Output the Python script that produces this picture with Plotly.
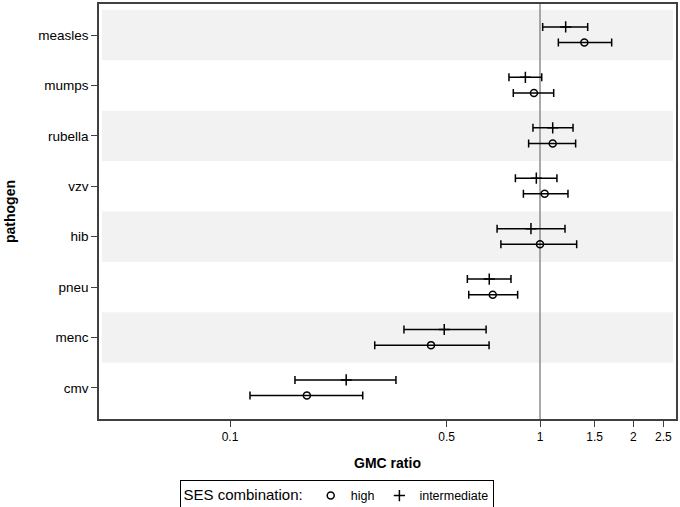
import plotly.graph_objects as go

pathogens = ["measles", "mumps", "rubella", "vzv", "hib", "pneu", "menc", "cmv"]

# SES combination: high
high_est = [1.39, 0.956, 1.099, 1.035, 1.00, 0.704, 0.445, 0.177]
high_lo = [1.146, 0.820, 0.919, 0.884, 0.748, 0.589, 0.293, 0.116]
high_hi = [1.703, 1.107, 1.303, 1.231, 1.313, 0.847, 0.685, 0.268]

# SES combination: intermediate
int_est = [1.21, 0.897, 1.099, 0.973, 0.935, 0.686, 0.491, 0.237]
int_lo = [1.02, 0.794, 0.949, 0.833, 0.727, 0.583, 0.364, 0.162]
int_hi = [1.425, 1.013, 1.278, 1.134, 1.204, 0.806, 0.670, 0.343]

x_ticks = [0.1, 0.5, 1, 1.5, 2, 2.5]
x_tick_labels = ["0.1", "0.5", "1", "1.5", "2", "2.5"]

n = len(pathogens)
ypos = [n - i for i in range(n)]  # measles at top
y_high = [y - 0.15 for y in ypos]
y_int = [y + 0.16 for y in ypos]

FONT = "Arial, Liberation Sans, sans-serif"

fig = go.Figure()

fig.add_trace(go.Scatter(
    x=high_est, y=y_high, mode="markers", name="high",
    marker=dict(symbol="circle-open", size=7, color="black", line=dict(width=1.5, color="black")),
    error_x=dict(type="data", symmetric=False,
                 array=[h - e for h, e in zip(high_hi, high_est)],
                 arrayminus=[e - l for e, l in zip(high_est, high_lo)],
                 color="black", thickness=1.5, width=4),
))
fig.add_trace(go.Scatter(
    x=int_est, y=y_int, mode="markers", name="intermediate",
    marker=dict(symbol="cross-thin", size=8, color="black", line=dict(width=1.5, color="black")),
    error_x=dict(type="data", symmetric=False,
                 array=[h - e for h, e in zip(int_hi, int_est)],
                 arrayminus=[e - l for e, l in zip(int_est, int_lo)],
                 color="black", thickness=1.5, width=4),
))

# alternating background bands
for i, y in enumerate(ypos):
    if i % 2 == 0:
        fig.add_shape(type="rect", xref="paper", yref="y",
                      x0=0.005, x1=0.995, y0=y - 0.5, y1=y + 0.5,
                      fillcolor="#f2f2f2", line=dict(width=0), layer="below")

# reference line at 1
fig.add_shape(type="line", xref="x", yref="paper", x0=1, x1=1, y0=0, y1=1,
              line=dict(color="#8c8c8c", width=1.5), layer="below")

fig.update_layout(
    width=680, height=507,
    margin=dict(l=99, r=4, t=4, b=88, autoexpand=False),
    plot_bgcolor="white", paper_bgcolor="white",
    font=dict(family=FONT, size=12, color="black"),
    showlegend=True,
    legend=dict(
        orientation="h", xref="container", yref="container",
        x=0.4963, xanchor="center", y=0.0533, yanchor="top",
        title=dict(text="SES combination:", side="left"),
        bordercolor="black", borderwidth=1, bgcolor="white",
        font=dict(size=12.5), itemwidth=30, tracegroupgap=0,
    ),
    xaxis=dict(
        type="log", range=[-1.4226, 0.4387],
        tickvals=x_ticks, ticktext=x_tick_labels,
        ticks="outside", ticklen=6, tickcolor="#404040",
        tickfont=dict(size=12),
        showline=True, linecolor="#404040", linewidth=1.5, mirror=True,
        showgrid=False, zeroline=False, automargin=False,
        title=dict(text="<b>GMC ratio</b>", font=dict(size=14), standoff=15),
    ),
    yaxis=dict(
        range=[0.385, 8.615],
        tickvals=ypos, ticktext=pathogens,
        ticks="outside", ticklen=6, tickcolor="#404040",
        tickfont=dict(size=13.5),
        showline=True, linecolor="#404040", linewidth=1.5, mirror=True,
        showgrid=False, zeroline=False, automargin=False,
        title=dict(text="<b>pathogen</b>", font=dict(size=14), standoff=19),
    ),
)

fig.write_html("out.html", config={"displayModeBar": False},
               post_script="document.body.style.margin='0';")
